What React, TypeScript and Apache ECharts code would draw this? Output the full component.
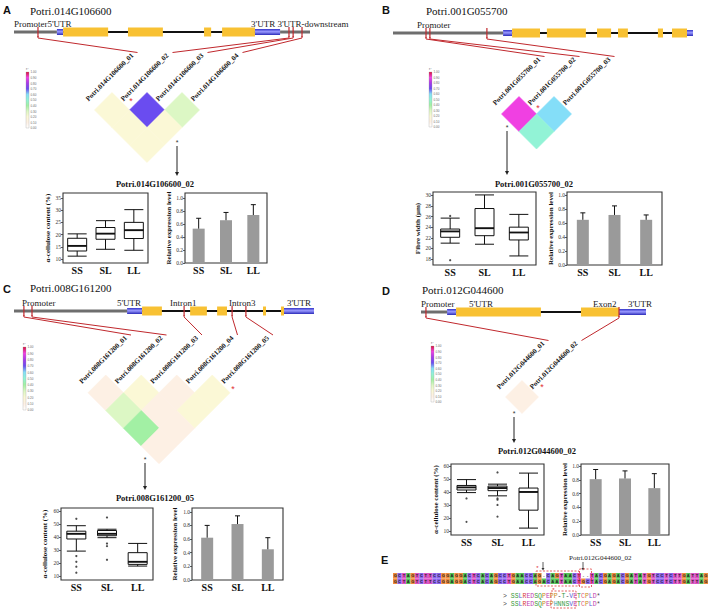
import React, { useEffect, useRef } from "react";
import * as echarts from "echarts";

const SERIF = '"Liberation Serif", "DejaVu Serif", serif';
const SANS = '"Liberation Sans", Arial, sans-serif';
const MONO = '"Liberation Mono", "DejaVu Sans Mono", monospace';

// ---------- shared ----------
const CATEGORIES = ["SS", "SL", "LL"];
const BAR_TICKS = [0, 0.2, 0.4, 0.6, 0.8, 1.0];
const LEGEND_VALUES = [1.0, 0.9, 0.8, 0.7, 0.6, 0.5, 0.4, 0.3, 0.2, 0.1, 0.0];

// ---------- panel A ----------
const A_GENE_NAME = "Potri.014G106600";
const A_GENE_PARTS: [string, number, number][] = [
  ["flank", 0, 14.5], ["utr", 14.5, 16.6], ["exon", 16.6, 31.8], ["exon", 38.5, 50.3],
  ["exon", 64.2, 66.6], ["exon", 70.3, 81.4], ["utr", 81.4, 89.9], ["flank", 89.9, 100],
];
const A_REGION_LABELS: [string, number][] = [["Promoter5'UTR", 0], ["3'UTR 3'UTR-downstream", 80.1]];
const A_SNP_POS = [8.1, 92.9, 94.3, 97.3];
const A_SNP_LABELS = ["Potri.014G106600_01", "Potri.014G106600_02", "Potri.014G106600_03", "Potri.014G106600_04"];
const A_LD: number[][] = [[1, 2, 0.2], [2, 3, 0.7], [3, 4, 0.3], [1, 3, 0.2], [2, 4, 0.2], [1, 4, 0.2]];
const A_SELECTED = "Potri.014G106600_02";
const A_BOX_NAME = "α-cellulose content (%)";
const A_BOX_TICKS = [10, 15, 20, 25, 30, 35];
const A_BOX: number[][] = [[11.2, 13.3, 15.4, 18.5, 20.3], [14, 18.1, 20.4, 22.9, 25.7], [13.6, 18.4, 21.8, 25, 30.2]];
const A_OUTLIERS: number[][] = [];
const A_EXPR = [0.53, 0.66, 0.74];
const A_EXPR_ERR = [0.16, 0.12, 0.16];

// ---------- panel B ----------
const B_GENE_NAME = "Potri.001G055700";
const B_GENE_PARTS: [string, number, number][] = [
  ["flank", 0, 36.7], ["utr", 36.7, 39.7], ["exon", 39.7, 49], ["exon", 51.3, 64.3], ["exon", 68, 72.7],
  ["exon", 75, 78.3], ["exon", 88.3, 90], ["exon", 93, 98], ["utr", 98, 100],
];
const B_REGION_LABELS: [string, number][] = [["Promoter", 8]];
const B_SNP_POS = [11, 12.3, 31.3];
const B_SNP_LABELS = ["Potri.001G055700_01", "Potri.001G055700_02", "Potri.001G055700_03"];
const B_LD: number[][] = [[1, 2, 0.9], [2, 3, 0.6], [1, 3, 0.5]];
const B_SELECTED = "Potri.001G055700_02";
const B_BOX_NAME = "Fibre width (μm)";
const B_BOX_TICKS = [18, 20, 22, 24, 26, 28, 30];
const B_BOX: number[][] = [[21, 22.1, 23.2, 23.65, 25.7], [20.8, 22.4, 23.8, 27.5, 30.05], [18.6, 21.6, 23, 24, 26.4]];
const B_OUTLIERS: number[][] = [[0, 17.8], [0, 26.1]];
const B_EXPR = [0.65, 0.72, 0.65];
const B_EXPR_ERR = [0.1, 0.13, 0.07];

// ---------- panel C ----------
const C_GENE_NAME = "Potri.008G161200";
const C_GENE_PARTS: [string, number, number][] = [
  ["flank", 0, 37.7], ["utr", 37.7, 42.7], ["exon", 42.7, 49.3], ["exon", 58.7, 64.3],
  ["exon", 67.7, 71], ["exon", 83, 84], ["exon", 89, 90], ["utr", 90, 100],
];
const C_REGION_LABELS: [string, number][] = [["Promoter", 2.7], ["5'UTR", 34.3], ["Intron1", 52], ["Intron3", 71.7], ["3'UTR", 91]];
const C_SNP_POS = [3.3, 6, 56.7, 72.7, 77.3];
const C_SNP_LABELS = ["Potri.008G161200_01", "Potri.008G161200_02", "Potri.008G161200_03", "Potri.008G161200_04", "Potri.008G161200_05"];
const C_LD: number[][] = [
  [1, 2, 0.1], [2, 3, 0.2], [3, 4, 0.1], [4, 5, 0.2],
  [1, 3, 0.3], [2, 4, 0.1], [3, 5, 0.2],
  [1, 4, 0.4], [2, 5, 0.1],
  [1, 5, 0.1],
];
const C_SELECTED = "Potri.008G161200_05";
const C_BOX_NAME = "α-cellulose content (%)";
const C_BOX_TICKS = [10, 20, 30, 40, 50, 60];
const C_BOX: number[][] = [[29.2, 38.5, 42.5, 44.5, 48.7], [39.5, 41, 42.5, 45, 46], [17.7, 19, 21, 28, 35.1]];
const C_OUTLIERS: number[][] = [[0, 54], [0, 25.4], [0, 21], [0, 17.2], [0, 12.6], [1, 55], [1, 35], [1, 33], [1, 22.5]];
const C_EXPR = [0.62, 0.82, 0.45];
const C_EXPR_ERR = [0.18, 0.12, 0.17];

// ---------- panel D ----------
const D_GENE_NAME = "Potri.012G044600";
const D_GENE_PARTS: [string, number, number][] = [
  ["flank", 0, 11.6], ["utr", 11.6, 15.6], ["exon", 15.6, 53.3], ["exon", 71.1, 88], ["utr", 88, 100],
];
const D_REGION_LABELS: [string, number][] = [["Promoter", 0], ["5'UTR", 21.3], ["Exon2", 76.4], ["3'UTR", 92]];
const D_SNP_POS = [2.2, 88];
const D_SNP_LABELS = ["Potri.012G044600_01", "Potri.012G044600_02"];
const D_LD: number[][] = [[1, 2, 0.1]];
const D_SELECTED = "Potri.012G044600_02";
const D_BOX_NAME = "α-cellulose content (%)";
const D_BOX_TICKS = [10, 20, 30, 40, 50, 60];
const D_BOX: number[][] = [[39.5, 41.5, 43.5, 45, 49.5], [37, 41, 43, 44.5, 46], [12.2, 26, 40, 43, 54.5]];
const D_OUTLIERS: number[][] = [[0, 35], [0, 17], [1, 55], [1, 35], [1, 34], [1, 30], [1, 21]];
const D_EXPR = [0.81, 0.82, 0.68];
const D_EXPR_ERR = [0.14, 0.11, 0.21];

// ---------- panel E ----------
const E_LABEL = "Potri.012G044600_02";
const SEQ_REF = "GCTAGTCTTCCGGAGGACTCACAGCCTGAACCAG" + "-" + "CAGTAACT" + "--" + "TACGAGACGATATGTCCTCTTGATTAG";
const SEQ_ALT = "GCTAGTCTTCCGGAGGACTCACAGCCTGAACCAG" + "A" + "CAATAACT" + "GC" + "TACGAGACGATATGTCCTCTTGATTAG";
const PROT_REF = "> SSLREDSQPEPP-T-VETCPLD*";
const PROT_ALT = "> SSLREDSQPEPHNNSVETCPLD*";

// ---------- styles ----------
const LD_STOPS: [number, string][] = [
  [0, "#ffffff"], [0.1, "#fdf0e4"], [0.2, "#fbf8d6"], [0.3, "#dcf7c4"], [0.4, "#a2f0a4"],
  [0.5, "#92f3d6"], [0.6, "#84def8"], [0.7, "#6a4cf0"], [0.8, "#a63ae8"], [0.9, "#f040e2"], [1.0, "#d6143c"],
];
const NT_COLORS: Record<string, string> = { A: "#55c458", C: "#8a64ee", G: "#f08a3c", T: "#dc54c4", "-": "#ffffff" };
const AA_COLORS: Record<string, string> = {
  S: "#3a9a3a", T: "#3a9a3a", N: "#3a9a3a", Q: "#3a9a3a", L: "#5b63d6", V: "#5b63d6",
  R: "#d84040", E: "#c040b0", D: "#c040b0", P: "#c98a20", H: "#2aa6b0", C: "#e0607e",
};

function hexToRgb(h: string) {
  const n = parseInt(h.slice(1), 16);
  return [(n >> 16) & 255, (n >> 8) & 255, n & 255];
}
function ldColor(r: number): string {
  for (let k = 0; k < LD_STOPS.length - 1; k++) {
    const [a, ca] = LD_STOPS[k];
    const [b, cb] = LD_STOPS[k + 1];
    if (r <= b + 1e-9) {
      const t = Math.max(0, Math.min(1, (r - a) / (b - a)));
      const A = hexToRgb(ca), B = hexToRgb(cb);
      const c = A.map((v, i) => Math.round(v + (B[i] - v) * t));
      return `rgb(${c[0]},${c[1]},${c[2]})`;
    }
  }
  return LD_STOPS[LD_STOPS.length - 1][1];
}

// ---------- layout ----------
const LAYOUT: any = {
  A: {
    letter: [3, 4], title: [30, 11], gene: { x0: 14, x1: 310, y: 32 }, ld: { left: 94.5, top: 92.5, d: 35 },
    legend: { x: 26, y: 72, h: 56 }, redStar: [131, 101], star: [177, 142], arrow: [177, 146, 176],
    sub: [155, 184], box: { left: 63, top: 193, width: 85, height: 70 }, bar: { left: 185, top: 193, width: 82, height: 70 },
    boxNameGap: 11, barNameGap: 13, boxMin: 8.4, boxMax: 37, barMax: 1.08,
  },
  B: {
    letter: [382, 4], title: [426, 11], gene: { x0: 393, x1: 693, y: 33 }, ld: { left: 501.5, top: 96.5, d: 35 },
    legend: { x: 429, y: 72, h: 55 }, redStar: [538, 108], star: [507, 127], arrow: [507, 131, 175],
    sub: [534, 184], box: { left: 433, top: 192, width: 103, height: 73 }, bar: { left: 567, top: 192, width: 95, height: 73 },
    boxNameGap: 6, barNameGap: 10, boxMin: 16.9, boxMax: 30.6, barMax: 1.05,
  },
  C: {
    letter: [3, 283], title: [30, 288], gene: { x0: 14, x1: 314, y: 311 }, ld: { left: 88, top: 375, d: 35.5 },
    legend: { x: 23, y: 347, h: 63 }, redStar: [233, 389], star: [145, 459], arrow: [145, 463, 490],
    sub: [155, 498], box: { left: 61, top: 508, width: 92, height: 72 }, bar: { left: 192, top: 508, width: 91, height: 72 },
    boxNameGap: 13, barNameGap: 14, boxMin: 7, boxMax: 62.3, barMax: 1.055,
  },
  D: {
    letter: [382, 285], title: [422, 290], gene: { x0: 421, x1: 646, y: 312 }, ld: { left: 505.5, top: 380.5, d: 33 },
    legend: { x: 431, y: 346, h: 56 }, redStar: [542, 387], star: [514, 413], arrow: [514, 417, 443],
    sub: [537, 451], box: { left: 451, top: 464, width: 93, height: 71 }, bar: { left: 581, top: 464, width: 88, height: 71 },
    boxNameGap: 11, barNameGap: 13, boxMin: 6.9, boxMax: 61.5, barMax: 1.03,
  },
};

function buildOption() {
  const grids: any[] = [];
  const xAxis: any[] = [];
  const yAxis: any[] = [];
  const series: any[] = [];
  const gfx: any[] = [];

  const addGrid = (grid: any, xa: any, ya: any) => {
    const gi = grids.length;
    grids.push({ containLabel: false, outerBoundsMode: "none", ...grid });
    xAxis.push({ ...xa, gridIndex: gi });
    yAxis.push({ ...ya, gridIndex: gi });
    return gi;
  };

  const catAxis = () => ({
    type: "category", data: CATEGORIES,
    axisLine: { show: false }, axisTick: { show: false }, splitLine: { show: false },
    axisLabel: { fontFamily: SERIF, fontWeight: "bold", fontSize: 10, color: "#111", margin: 2 },
  });
  const valAxis = (min: number, max: number, ticks: number[], name: string, gap: number, fmt: (v: number) => string) => ({
    type: "value", min, max,
    axisLine: { show: false }, splitLine: { show: false },
    axisTick: { show: true, length: 2, lineStyle: { color: "#333", width: 0.8 }, customValues: ticks },
    axisLabel: { customValues: ticks, fontFamily: SERIF, fontSize: 5.5, color: "#333", margin: 2, formatter: (v: number) => fmt(v) },
    name, nameLocation: "middle", nameGap: gap, nameRotate: 90,
    nameTextStyle: { fontFamily: SERIF, fontWeight: "bold", fontSize: 7, color: "#111" },
  });

  const frame = { show: true, borderColor: "#333333", borderWidth: 1.1, backgroundColor: "transparent" };

  const errRender = (params: any, api: any) => {
    const x = api.value(0), v = api.value(1), t = api.value(2);
    const p0 = api.coord([x, v]);
    const p1 = api.coord([x, t]);
    return {
      type: "group",
      children: [
        { type: "line", shape: { x1: p0[0], y1: p0[1], x2: p1[0], y2: p1[1] }, style: { stroke: "#111", lineWidth: 1 } },
        { type: "line", shape: { x1: p1[0] - 2.5, y1: p1[1], x2: p1[0] + 2.5, y2: p1[1] }, style: { stroke: "#111", lineWidth: 1 } },
      ],
    };
  };

  const medianRender = (params: any, api: any) => {
    const x = api.value(0), m = api.value(1);
    const p = api.coord([x, m]);
    return { type: "line", shape: { x1: p[0] - 9.5, y1: p[1], x2: p[0] + 9.5, y2: p[1] }, style: { stroke: "#111", lineWidth: 1.8 } };
  };

  const ldRender = (params: any, api: any) => {
    const i = api.value(0), j = api.value(1), r = api.value(2);
    const cx = (i + j) / 2, cy = (j - i) / 2;
    const pts = [[cx - 0.5, cy], [cx, cy - 0.5], [cx + 0.5, cy], [cx, cy + 0.5]].map((p) => api.coord(p));
    const c = ldColor(r);
    return { type: "polygon", shape: { points: pts }, style: { fill: c, stroke: c, lineWidth: 0.6 } };
  };

  const panel = (key: string, name: string, parts: [string, number, number][], regions: [string, number][],
    snps: number[], snpLabels: string[], ld: number[][], selected: string,
    boxName: string, boxTicks: number[], box: number[][], outliers: number[][], expr: number[], err: number[]) => {
    const L = LAYOUT[key];
    const n = snps.length;
    gfx.push({ type: "text", x: L.letter[0], y: L.letter[1], style: { text: key, font: `bold 11px ${SANS}`, fill: "#111", textAlign: "left", textVerticalAlign: "top" } });
    gfx.push({ type: "text", x: L.title[0], y: L.title[1], style: { text: name, font: `11px ${SERIF}`, fill: "#111", textAlign: "left", textVerticalAlign: "middle" } });

    // gene structure
    const { x0, x1, y } = L.gene;
    const sx = (u: number) => x0 + ((x1 - x0) * u) / 100;
    const core = parts.filter((p) => p[0] !== "flank");
    const cs = Math.min(...core.map((p) => p[1]));
    const ce = Math.max(...core.map((p) => p[2]));
    gfx.push({ type: "rect", shape: { x: sx(cs), y: y - 1, width: sx(ce) - sx(cs), height: 2 }, style: { fill: "#111" } });
    parts.forEach(([t, a, b]) => {
      const xa = sx(a), w = sx(b) - sx(a);
      if (t === "flank") gfx.push({ type: "rect", shape: { x: xa, y: y - 1.5, width: w, height: 3 }, style: { fill: "#6e6e6e" } });
      if (t === "utr") gfx.push({
        type: "rect", shape: { x: xa, y: y - 3, width: w, height: 6 },
        style: { fill: { type: "linear", x: 0, y: 0, x2: 0, y2: 1, colorStops: [{ offset: 0, color: "#3434c8" }, { offset: 0.45, color: "#9a9aff" }, { offset: 1, color: "#2a2ab8" }] } },
      });
      if (t === "exon") gfx.push({ type: "rect", shape: { x: xa, y: y - 4.5, width: w, height: 9 }, style: { fill: "#f8c133" } });
    });
    regions.forEach(([txt, u]) => {
      gfx.push({ type: "text", x: sx(u), y: y - 4, style: { text: txt, font: `9px ${SERIF}`, fill: "#222", textAlign: "left", textVerticalAlign: "bottom" } });
    });

    // SNP ticks, connectors, labels
    snps.forEach((u, k) => {
      const xs = sx(u);
      const px = L.ld.left + k * L.ld.d;
      const stx = px - 5, sty = L.ld.top + 10;
      gfx.push({ type: "line", shape: { x1: xs, y1: y - 5, x2: xs, y2: y + 5 }, style: { stroke: "#c0282d", lineWidth: 1.2 }, z: 5 });
      gfx.push({ type: "polyline", shape: { points: [[xs, y + 4], [xs, y + 6], [stx + 48, sty - 50]] }, style: { stroke: "#c0282d", lineWidth: 1, fill: null }, z: 5 });
      gfx.push({ type: "text", x: stx, y: sty, rotation: Math.PI / 4, style: { text: snpLabels[k], font: `bold 7px ${SERIF}`, fill: "#111", textAlign: "left", textVerticalAlign: "bottom" } });
    });

    // LD legend
    const lg = L.legend;
    gfx.push({
      type: "rect", shape: { x: lg.x, y: lg.y, width: 3, height: lg.h },
      style: {
        fill: { type: "linear", x: 0, y: 0, x2: 0, y2: 1, colorStops: LD_STOPS.map(([v, c]) => ({ offset: 1 - v, color: c })).reverse() },
        stroke: "#999", lineWidth: 0.3,
      },
    });
    gfx.push({ type: "text", x: lg.x, y: lg.y - 1, style: { text: "r²", font: `3.5px ${SANS}`, fill: "#555", textAlign: "left", textVerticalAlign: "bottom" } });
    LEGEND_VALUES.forEach((v, k) => {
      gfx.push({ type: "text", x: lg.x + 4.5, y: lg.y + (lg.h * k) / (LEGEND_VALUES.length - 1), style: { text: v.toFixed(2), font: `3px ${SANS}`, fill: "#666", textAlign: "left", textVerticalAlign: "middle" } });
    });

    // LD cells
    const ldG = addGrid(
      { left: L.ld.left, top: L.ld.top, width: (n - 1) * L.ld.d, height: (n / 2) * L.ld.d, show: false },
      { type: "value", min: 1, max: n, show: false },
      { type: "value", min: 0, max: n / 2, inverse: true, show: false },
    );
    series.push({ type: "custom", xAxisIndex: ldG, yAxisIndex: ldG, data: ld, renderItem: ldRender, silent: true });

    // markers & arrow
    gfx.push({ type: "text", x: L.redStar[0], y: L.redStar[1], style: { text: "*", font: `9px ${SANS}`, fill: "#e03030", textAlign: "center", textVerticalAlign: "middle" } });
    gfx.push({ type: "text", x: L.star[0], y: L.star[1], style: { text: "*", font: `7px ${SANS}`, fill: "#333", textAlign: "center", textVerticalAlign: "middle" } });
    const [ax, ay1, ay2] = L.arrow;
    gfx.push({ type: "line", shape: { x1: ax, y1: ay1, x2: ax, y2: ay2 - 3 }, style: { stroke: "#222", lineWidth: 1 } });
    gfx.push({ type: "polygon", shape: { points: [[ax - 2, ay2 - 4], [ax + 2, ay2 - 4], [ax, ay2]] }, style: { fill: "#222" } });
    gfx.push({ type: "text", x: L.sub[0], y: L.sub[1], style: { text: selected, font: `bold 8.5px ${SERIF}`, fill: "#111", textAlign: "center", textVerticalAlign: "middle" } });

    // box plot
    const bg = addGrid({ ...L.box, ...frame }, catAxis(), valAxis(L.boxMin, L.boxMax, boxTicks, boxName, L.boxNameGap, (v) => String(v)));
    series.push({
      type: "boxplot", xAxisIndex: bg, yAxisIndex: bg, data: box, boxWidth: [19, 19], silent: true,
      itemStyle: { color: "#fff", borderColor: "#111", borderWidth: 1 },
    });
    series.push({ type: "custom", xAxisIndex: bg, yAxisIndex: bg, data: box.map((b, i) => [i, b[2]]), renderItem: medianRender, silent: true, z: 3 });
    if (outliers.length) {
      series.push({ type: "scatter", xAxisIndex: bg, yAxisIndex: bg, data: outliers, symbolSize: 2.2, silent: true, itemStyle: { color: "#222" }, z: 4 });
    }

    // bar chart
    const rg = addGrid({ ...L.bar, ...frame }, catAxis(), valAxis(0, L.barMax, BAR_TICKS, "Relative expression level", L.barNameGap, (v) => v.toFixed(1)));
    series.push({ type: "bar", xAxisIndex: rg, yAxisIndex: rg, data: expr, barWidth: 12, silent: true, itemStyle: { color: "#9a9a9a" } });
    series.push({ type: "custom", xAxisIndex: rg, yAxisIndex: rg, data: expr.map((v, i) => [i, v, v + err[i]]), renderItem: errRender, silent: true, z: 3 });
  };

  panel("A", A_GENE_NAME, A_GENE_PARTS, A_REGION_LABELS, A_SNP_POS, A_SNP_LABELS, A_LD, A_SELECTED, A_BOX_NAME, A_BOX_TICKS, A_BOX, A_OUTLIERS, A_EXPR, A_EXPR_ERR);
  panel("B", B_GENE_NAME, B_GENE_PARTS, B_REGION_LABELS, B_SNP_POS, B_SNP_LABELS, B_LD, B_SELECTED, B_BOX_NAME, B_BOX_TICKS, B_BOX, B_OUTLIERS, B_EXPR, B_EXPR_ERR);
  panel("C", C_GENE_NAME, C_GENE_PARTS, C_REGION_LABELS, C_SNP_POS, C_SNP_LABELS, C_LD, C_SELECTED, C_BOX_NAME, C_BOX_TICKS, C_BOX, C_OUTLIERS, C_EXPR, C_EXPR_ERR);
  panel("D", D_GENE_NAME, D_GENE_PARTS, D_REGION_LABELS, D_SNP_POS, D_SNP_LABELS, D_LD, D_SELECTED, D_BOX_NAME, D_BOX_TICKS, D_BOX, D_OUTLIERS, D_EXPR, D_EXPR_ERR);

  // ---------- panel E ----------
  gfx.push({ type: "text", x: 381, y: 554, style: { text: "E", font: `bold 11px ${SANS}`, fill: "#111", textAlign: "left", textVerticalAlign: "top" } });
  gfx.push({ type: "text", x: 569, y: 558, style: { text: E_LABEL, font: `7px ${SERIF}`, fill: "#222", textAlign: "left", textVerticalAlign: "middle" } });
  const seqRows = [SEQ_REF, SEQ_ALT];
  const seqData: number[][] = [];
  const seqChars: string[] = [];
  seqRows.forEach((row, r) => row.split("").forEach((ch, c) => { seqData.push([c, r]); seqChars.push(ch); }));
  const sg = addGrid(
    { left: 393, top: 573, width: 315, height: 11, show: false },
    { type: "value", min: 0, max: SEQ_REF.length, show: false },
    { type: "value", min: 0, max: 2, inverse: true, show: false },
  );
  series.push({
    type: "custom", xAxisIndex: sg, yAxisIndex: sg, data: seqData, silent: true,
    renderItem: (params: any, api: any) => {
      const c = api.value(0), r = api.value(1);
      const ch = seqChars[params.dataIndex];
      const p0 = api.coord([c, r]);
      const p1 = api.coord([c + 1, r + 1]);
      return {
        type: "group",
        children: [
          { type: "rect", shape: { x: p0[0], y: p0[1], width: p1[0] - p0[0], height: p1[1] - p0[1] }, style: { fill: NT_COLORS[ch] || "#fff" } },
          {
            type: "text",
            style: { text: ch, x: (p0[0] + p1[0]) / 2, y: (p0[1] + p1[1]) / 2, textAlign: "center", textVerticalAlign: "middle", align: "center", verticalAlign: "middle", font: `bold 4px ${SANS}`, fill: "#222" },
          },
        ],
      };
    },
  });
  const dashed = { fill: null, stroke: "#e03c3c", lineWidth: 0.8, lineDash: [2, 1.5] };
  gfx.push({ type: "rect", shape: { x: 536, y: 571, width: 43, height: 15 }, style: dashed, z: 6 });
  gfx.push({ type: "rect", shape: { x: 579.5, y: 569, width: 12, height: 18 }, style: dashed, z: 6 });
  gfx.push({ type: "line", shape: { x1: 543, y1: 562, x2: 543, y2: 568 }, style: { stroke: "#333", lineWidth: 0.8 } });
  gfx.push({ type: "polygon", shape: { points: [[541.5, 568], [544.5, 568], [543, 570.5]] }, style: { fill: "#333" } });
  gfx.push({ type: "line", shape: { x1: 583, y1: 562, x2: 583, y2: 568 }, style: { stroke: "#333", lineWidth: 0.8 } });
  gfx.push({ type: "polygon", shape: { points: [[581.5, 568], [584.5, 568], [583, 570.5]] }, style: { fill: "#333" } });
  gfx.push({ type: "text", x: 537.5, y: 568, style: { text: "*", font: `6px ${SANS}`, fill: "#e03030", textAlign: "center", textVerticalAlign: "middle" } });

  [PROT_REF, PROT_ALT].forEach((row, r) => {
    row.split("").forEach((ch, k) => {
      if (ch === " ") return;
      gfx.push({
        type: "text", x: 503 + k * 3.9, y: 596 + r * 8.5,
        style: { text: ch, font: `6.5px ${MONO}`, fill: AA_COLORS[ch] || "#444", textAlign: "left", textVerticalAlign: "middle" },
      });
    });
  });
  gfx.push({ type: "rect", shape: { x: 551, y: 591, width: 25, height: 17 }, style: dashed, z: 6 });
  gfx.push({ type: "text", x: 553.5, y: 590, style: { text: "*", font: `6px ${SANS}`, fill: "#e03030", textAlign: "center", textVerticalAlign: "middle" } });

  return {
    animation: false,
    backgroundColor: "#ffffff",
    textStyle: { fontFamily: SERIF },
    grid: grids,
    xAxis,
    yAxis,
    series,
    graphic: { elements: gfx },
  };
}

export default function App() {
  const ref = useRef<HTMLDivElement>(null);
  useEffect(() => {
    const chart = echarts.init(ref.current as HTMLDivElement, null, { renderer: "svg" });
    chart.setOption(buildOption() as any);
    return () => chart.dispose();
  }, []);
  return <div ref={ref} style={{ position: "absolute", left: 0, top: 0, width: 708, height: 613, background: "#fff" }} />;
}
